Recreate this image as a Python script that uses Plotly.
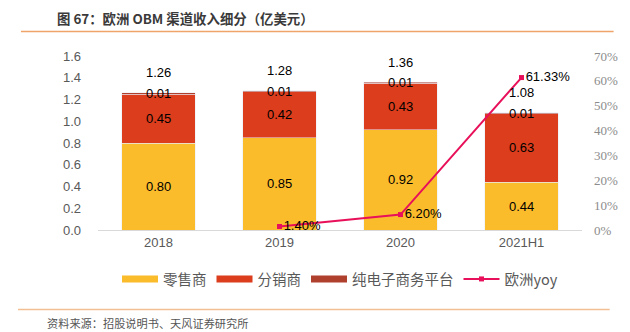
import plotly.graph_objects as go

categories = ["2018", "2019", "2020", "2021H1"]
retail = [0.80, 0.85, 0.92, 0.44]
distributor = [0.45, 0.42, 0.43, 0.63]
ecommerce = [0.01, 0.01, 0.01, 0.01]
totals = [1.26, 1.28, 1.36, 1.08]
yoy_categories = ["2019", "2020", "2021H1"]
yoy = [1.40, 6.20, 61.33]
bar_names = ["零售商", "分销商", "纯电子商务平台"]

C_RETAIL = "#FBBC2C"
C_DIST = "#DC3D1C"
C_ECOM = "#B0402E"
C_LINE = "#E8105A"
TXT = "#595959"
FONT = "Noto Sans CJK SC"
NUMFONT = "Liberation Sans"

bar_series = [retail, distributor, ecommerce]
bar_colors = [C_RETAIL, C_DIST, C_ECOM]

fig = go.Figure()
for name, vals, col in zip(bar_names, bar_series, bar_colors):
    fig.add_trace(go.Bar(name=name, x=categories, y=vals, marker_color=col,
                         showlegend=False, legendgroup=name))
# legend proxies (wide rectangular swatches like the reference)
for name, col in zip(bar_names, bar_colors):
    fig.add_trace(go.Scatter(name=name, x=[None], y=[None], mode="lines",
                             line=dict(color=col, width=7), legendgroup=name,
                             hoverinfo="skip"))
fig.add_trace(go.Scatter(
    name="欧洲yoy", x=yoy_categories, y=yoy, yaxis="y2",
    mode="lines+markers+text",
    line=dict(color=C_LINE, width=2),
    marker=dict(symbol="square", size=5, color=C_LINE),
    text=[f"{v:.2f}%" for v in yoy], textposition="middle right",
    textfont=dict(size=13, color="#000000", family=NUMFONT),
))

annotations = []
for i, c in enumerate(categories):
    base = 0
    for vals in bar_series:
        v = vals[i]
        annotations.append(dict(x=i, y=base + v / 2, xref="x", yref="y", text=f"{v:.2f}",
                                showarrow=False,
                                font=dict(size=13, color="#000000", family=NUMFONT)))
        base += v
    annotations.append(dict(x=i, y=totals[i], xref="x", yref="y", text=f"{totals[i]:.2f}",
                            showarrow=False, yshift=20,
                            font=dict(size=13, color="#000000", family=NUMFONT)))

W, H = 630, 332
L, R, T, B = 98, 42, 56, 102
pw, ph = W - L - R, H - T - B

def px_x(p):
    return (p - L) / pw

def px_y(p):
    return (H - B - p) / ph

annotations.append(dict(x=px_x(54), y=px_y(18), xref="paper", yref="paper",
                        xanchor="left", yanchor="middle",
                        text="<b>图 67：欧洲 OBM 渠道收入细分（亿美元）</b>", showarrow=False,
                        font=dict(size=13.4, color="#3a3a3a", family=FONT)))
annotations.append(dict(x=px_x(44), y=px_y(323), xref="paper", yref="paper",
                        xanchor="left", yanchor="middle",
                        text="资料来源：招股说明书、天风证券研究所", showarrow=False,
                        font=dict(size=11.2, color="#555555", family=FONT)))

shapes = [
    dict(type="line", xref="paper", yref="paper", x0=px_x(20), x1=px_x(620),
         y0=px_y(31.5), y1=px_y(31.5), line=dict(color="#EFA46A", width=1.5)),
    dict(type="line", xref="paper", yref="paper", x0=px_x(17), x1=px_x(616),
         y0=px_y(309.5), y1=px_y(309.5), line=dict(color="#F3BE93", width=1.5)),
]

fig.update_layout(
    width=W, height=H,
    margin=dict(l=L, r=R, t=T, b=B),
    barmode="stack", bargap=0.39,
    plot_bgcolor="white", paper_bgcolor="white",
    font=dict(family=FONT, color=TXT, size=13),
    xaxis=dict(type="category", range=[-0.5, len(categories) - 0.5],
               showline=True, linecolor="#d9d9d9", linewidth=1, ticks="",
               tickfont=dict(size=13, color=TXT, family=NUMFONT), showgrid=False),
    yaxis=dict(range=[0, 1.6], dtick=0.2, tickformat=".1f", showgrid=False, zeroline=False,
               tickfont=dict(size=13, color=TXT, family=NUMFONT), ticklabelstandoff=16),
    yaxis2=dict(range=[0, 70], dtick=10, ticksuffix="%", overlaying="y", side="right",
                showgrid=False, zeroline=False,
                tickfont=dict(size=13, color="#8c8c8c", family="Liberation Sans Narrow"),
                ticklabelstandoff=11),
    legend=dict(orientation="h", x=0.5, xanchor="center", y=px_y(279), yanchor="middle",
                font=dict(size=14.5, color=TXT, family=FONT), itemwidth=36,
                traceorder="normal"),
    annotations=annotations,
    shapes=shapes,
)

fig.write_html("out.html")
